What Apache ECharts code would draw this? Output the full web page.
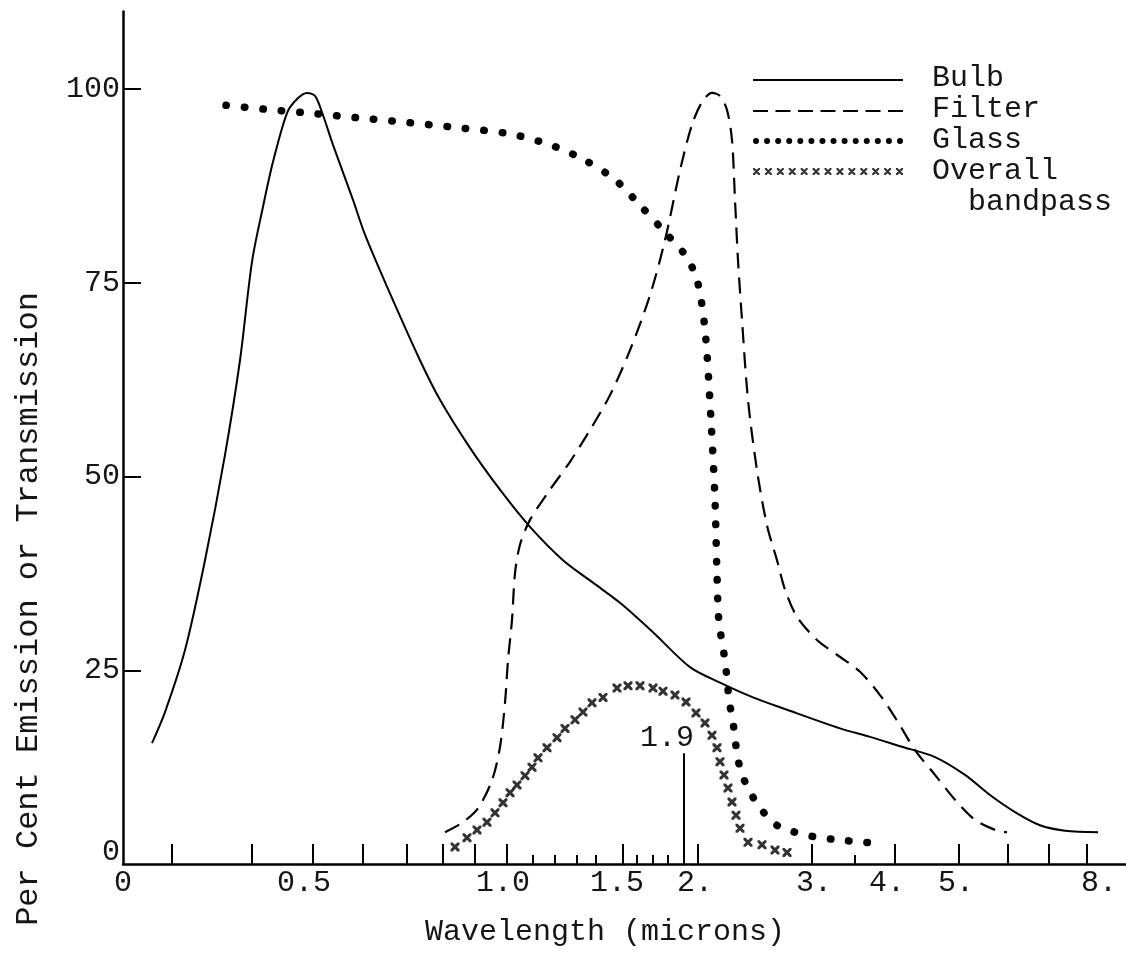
<!DOCTYPE html>
<html>
<head>
<meta charset="utf-8">
<script src="https://cdn.jsdelivr.net/npm/echarts@6/dist/echarts.min.js"></script>
<style>
html,body{margin:0;padding:0;background:#fff;}
#chart{width:1126px;height:953px;}
</style>
</head>
<body>
<div id="chart"></div>
<script>
// x values are positions along the (non-linear, hand-drawn) wavelength scale, 0..100.3
const tickLabels = ['0', '0.5', '1.0', '1.5', '2.', '3.', '4.', '5.', '8.'];
const labelPositions = [0, 18.1, 38.0, 49.4, 57.2, 69.1, 76.4, 83.3, 97.6];
const tallTicks = [4.9, 12.9, 19.0, 24.0, 28.4, 32.0, 35.2, 38.4, 50.0, 57.5, 68.9, 77.2, 83.6, 88.5, 92.6, 96.4];
const shortTicks = [41.0, 43.2, 45.4, 47.3, 51.4, 53.0, 54.5, 73.2];
const yTicks = [25, 50, 75, 100];
const yLabelValues = [1.6, 25, 50, 75, 100];

const bulb = [[2.9,15.6],[4.2,19.6],[6.2,27.6],[8.2,39.2],[10.2,52.8],[11.7,65.0],[12.9,77.7],[14.0,84.8],[15.0,90.6],[16.4,96.9],[17.4,98.7],[18.4,99.5],[19.2,99.1],[19.9,97.0],[21.0,92.8],[23.0,85.7],[24.2,81.2],[26.4,74.5],[29.7,65.0],[31.7,59.9],[34.7,53.7],[37.7,48.3],[40.7,43.5],[44.0,39.2],[47.0,36.3],[49.7,33.7],[53.0,29.9],[56.7,25.4],[59.7,23.4],[63.0,21.5],[66.4,19.9],[71.7,17.5],[74.7,16.4],[77.7,15.2],[81.2,13.8],[84.2,11.5],[86.7,8.9],[89.2,6.7],[91.7,5.0],[94.2,4.3],[97.5,4.1]];

const filter = [[32.2,4.1],[34.0,5.4],[35.5,7.2],[36.9,10.8],[37.7,15.1],[38.2,20.8],[38.5,26.3],[38.9,31.5],[39.2,37.5],[39.7,41.2],[40.7,44.4],[42.7,48.3],[44.7,51.9],[46.7,56.0],[48.7,60.5],[50.7,66.3],[52.7,73.4],[54.2,80.5],[55.7,89.5],[56.9,95.4],[57.9,98.3],[58.9,99.5],[59.7,99.1],[60.4,97.3],[60.9,93.4],[61.2,85.7],[61.5,77.9],[61.9,70.2],[62.5,59.9],[63.4,50.8],[64.4,43.7],[65.4,39.2],[66.2,35.4],[67.4,31.9],[69.4,28.9],[71.4,27.0],[73.7,24.8],[75.7,21.8],[77.5,18.3],[79.2,14.7],[81.2,11.5],[83.2,8.3],[85.2,5.7],[87.2,4.4],[88.4,4.1]];

const glass = [[10.3,97.9],[14.1,97.4],[18.5,96.9],[23.4,96.3],[28.3,95.7],[33.6,95.0],[38.7,94.2],[42.7,92.8],[46.2,90.8],[49.2,88.3],[51.7,85.0],[54.2,81.5],[56.2,78.6],[57.4,75.4],[58.2,68.9],[58.8,57.3],[59.2,47.0],[59.4,37.3],[59.6,31.1],[60.0,28.0],[60.4,24.0],[60.6,21.2],[61.0,18.3],[61.4,14.3],[61.8,11.9],[62.5,9.8],[63.3,8.0],[64.3,6.3],[65.5,4.9],[67.2,4.1],[69.2,3.5],[71.7,3.1],[74.2,2.8],[75.9,2.7]];

const overall = [[33.2,2.2],[34.4,3.4],[35.4,4.4],[36.4,5.4],[37.2,6.6],[38.0,7.9],[38.7,9.2],[39.4,10.2],[40.2,11.4],[40.9,12.5],[41.5,13.7],[42.4,15.0],[43.4,16.3],[44.2,17.5],[45.2,18.6],[46.0,19.6],[46.9,20.8],[48.0,21.5],[49.4,22.7],[50.5,23.0],[51.7,23.0],[53.0,22.7],[54.0,22.3],[55.2,21.8],[56.3,20.9],[57.3,19.5],[58.2,18.2],[58.9,16.6],[59.4,15.0],[59.7,13.2],[60.1,11.5],[60.5,9.8],[60.9,8.0],[61.3,6.3],[61.7,4.6],[62.5,2.8],[63.9,2.5],[65.2,1.8],[66.4,1.5]];

const markerLabel = '1.9';
const markerX = 56.1;
const markerHeight = 14.3;

const FONT = 'Liberation Mono';
const INK = '#151515';

// icon helpers (styling only)
function xShape(ox, oy, s, t) {
  const a = (px, py) => (ox + px) + ',' + (oy + py);
  return 'M' + a(0,0) + 'L' + a(t,0) + 'L' + a(s,s-t) + 'L' + a(s,s) + 'L' + a(s-t,s) + 'L' + a(0,t) + 'Z' +
         'M' + a(s,0) + 'L' + a(s,t) + 'L' + a(t,s) + 'L' + a(0,s) + 'L' + a(0,s-t) + 'L' + a(s-t,0) + 'Z';
}
function circleShape(cx, cy, r) {
  return 'M' + (cx - r) + ',' + cy + 'a' + r + ',' + r + ' 0 1,0 ' + (2*r) + ',0' + 'a' + r + ',' + r + ' 0 1,0 ' + (-2*r) + ',0Z';
}
// every legend icon spans a 150 x 8 box (corner anchors keep the box)
const BOX = 'M0,0L0,0M150,8L150,8';
const bulbIcon = 'path://' + BOX + 'M0,5H150V7H0Z';
let filterIcon = 'path://' + BOX;
for (let i = 0; i < 7; i++) { const s = i * 22.5; filterIcon += 'M' + s + ',5H' + (s + 15) + 'V7H' + s + 'Z'; }
let glassIcon = 'path://' + BOX;
for (let i = 0; i < 14; i++) glassIcon += circleShape(3 + i * (144 / 13), 5, 3);
let overallIcon = 'path://' + BOX;
for (let i = 0; i < 13; i++) overallIcon += xShape(i * (143 / 12), 1, 7, 1.6);
const xSymbol = 'path://' + xShape(0, 0, 10, 2.4);

function labelFor(v) {
  for (let i = 0; i < labelPositions.length; i++) {
    if (Math.abs(labelPositions[i] - v) < 1e-6) return tickLabels[i];
  }
  return '';
}

const chart = echarts.init(document.getElementById('chart'), null, {renderer: 'canvas'});
chart.setOption({
  backgroundColor: '#ffffff',
  animation: false,
  grid: {left: 123, right: 0, top: 11.5, bottom: 89, containLabel: false, outerBoundsMode: 'none'},
  legend: {
    orient: 'vertical',
    left: 753,
    top: 63,
    padding: 0,
    itemGap: 1,
    itemWidth: 150,
    itemHeight: 8,
    selectedMode: false,
    textStyle: {fontFamily: FONT, fontSize: 30, color: INK, padding: [0, 0, 0, 24]},
    data: [
      {name: 'Bulb', icon: bulbIcon},
      {name: 'Filter', icon: filterIcon},
      {name: 'Glass', icon: glassIcon},
      {name: 'Overall', icon: overallIcon}
    ]
  },
  xAxis: [
    {
      type: 'value', min: 0, max: 100.3,
      axisLine: {show: true, lineStyle: {color: '#000', width: 2.5}},
      axisTick: {show: true, inside: true, length: 20, customValues: tallTicks, lineStyle: {color: '#000', width: 2}},
      axisLabel: {show: true, customValues: labelPositions, formatter: labelFor, margin: 4,
                  fontFamily: FONT, fontSize: 30, color: INK},
      splitLine: {show: false}
    },
    {
      type: 'value', min: 0, max: 100.3, position: 'bottom',
      axisLine: {show: false},
      axisTick: {show: true, inside: true, length: 9, customValues: shortTicks, lineStyle: {color: '#000', width: 2}},
      axisLabel: {show: false},
      splitLine: {show: false}
    }
  ],
  yAxis: {
    type: 'value', min: 0, max: 110,
    axisLine: {show: true, lineStyle: {color: '#000', width: 2.5}},
    axisTick: {show: true, inside: true, length: 18, customValues: yTicks, lineStyle: {color: '#000', width: 2}},
    axisLabel: {show: true, customValues: yLabelValues, margin: 3,
                formatter: v => (v < 5 ? '0' : String(v)),
                fontFamily: FONT, fontSize: 30, color: INK},
    splitLine: {show: false}
  },
  series: [
    {
      name: 'Bulb', type: 'line', data: bulb, smooth: 0.3, showSymbol: false, symbol: 'none',
      itemStyle: {color: '#000'},
      lineStyle: {color: '#000', width: 2}
    },
    {
      name: 'Filter', type: 'line', data: filter, smooth: 0.3, showSymbol: false, symbol: 'none',
      itemStyle: {color: '#000'},
      lineStyle: {color: '#000', width: 2.2, type: [16, 9]}
    },
    {
      name: 'Glass', type: 'line', data: glass, smooth: 0.3, showSymbol: false, symbol: 'none',
      itemStyle: {color: '#000'},
      lineStyle: {color: '#000', width: 7.5, type: [0.5, 18], cap: 'round'}
    },
    {
      name: 'Overall', type: 'scatter', data: overall, symbol: xSymbol, symbolSize: 9,
      itemStyle: {color: '#000'},
      markLine: {
        silent: true, symbol: ['none', 'none'], animation: false,
        lineStyle: {color: '#000', width: 2, type: 'solid'},
        label: {show: true, position: 'end', distance: 0, formatter: markerLabel,
                fontFamily: FONT, fontSize: 30, color: INK, padding: [0, 34, 0, 0]},
        data: [[{coord: [markerX, 0]}, {coord: [markerX, markerHeight]}]]
      }
    }
  ],
  graphic: [
    {type: 'text', x: 605, y: 932, style: {text: 'Wavelength (microns)', fontFamily: FONT, fontSize: 30, fill: INK, align: 'center', verticalAlign: 'middle'}},
    {type: 'text', x: 29, y: 609, rotation: Math.PI / 2, style: {text: 'Per Cent Emission or Transmission', fontFamily: FONT, fontSize: 32, fill: INK, align: 'center', verticalAlign: 'middle'}},
    {type: 'text', x: 968, y: 202, style: {text: 'bandpass', fontFamily: FONT, fontSize: 30, fill: INK, align: 'left', verticalAlign: 'middle'}}
  ]
});
</script>
</body>
</html>
